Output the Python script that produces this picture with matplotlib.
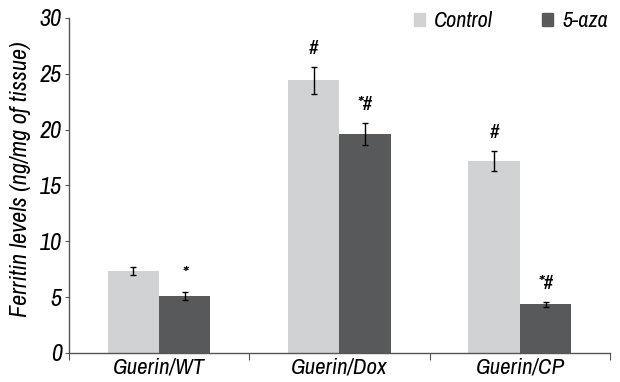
import numpy as np
import matplotlib
matplotlib.use('Agg')
import matplotlib.pyplot as plt
from matplotlib.patches import Patch

plt.rcParams['font.family'] = ['Archivo Narrow', 'DejaVu Sans']
plt.rcParams['font.style'] = 'italic'

# dados
grupos = ['Guerin/WT', 'Guerin/Dox', 'Guerin/CP']
controle = [7.35, 24.4, 17.2]
controle_err = [0.38, 1.2, 0.88]
aza = [5.1, 19.6, 4.35]
aza_err = [0.32, 1.0, 0.25]
marca_controle = ['', '#', '#']
marca_aza = ['*', '*#', '*#']

cor_controle = '#d1d2d4'
cor_aza = '#58595b'

fig = plt.figure(figsize=(6.2, 3.82), dpi=100)
ax = fig.add_axes([0.111, 0.076, 0.873, 0.877])

x = np.arange(len(grupos)) + 0.5
w = 0.285
ax.bar(x - w/2, controle, w, color=cor_controle, label='Control')
ax.bar(x + w/2, aza, w, color=cor_aza, label='5-aza')
ax.errorbar(x - w/2, controle, yerr=controle_err, fmt='none', ecolor='black',
            elinewidth=1, capsize=2.5, capthick=1)
ax.errorbar(x + w/2, aza, yerr=aza_err, fmt='none', ecolor='black',
            elinewidth=1, capsize=2.5, capthick=1)

for xi, v, e, m in zip(x - w/2, controle, controle_err, marca_controle):
    if m:
        ax.text(xi, v + e + 0.8, m, ha='center', va='bottom', fontsize=15)
for xi, v, e, m in zip(x + w/2, aza, aza_err, marca_aza):
    ax.text(xi, v + e + 0.8, m, ha='center', va='bottom', fontsize=15)

ax.set_xlim(0, 3)
ax.set_ylim(0, 30)
ax.set_yticks([0, 5, 10, 15, 20, 25, 30])
ax.set_xticks([0, 1, 2, 3])
ax.set_xticklabels([])
ax.set_xticks(x, minor=True)
ax.set_xticklabels(grupos, minor=True, fontsize=16.5)
ax.tick_params(axis='x', which='minor', length=0, pad=3)
ax.tick_params(axis='x', which='major', length=5, color='#555555', direction='out')
ax.tick_params(axis='y', length=3, color='#555555', labelsize=17.5, pad=2)

for s in ['top', 'right']:
    ax.spines[s].set_visible(False)
for s in ['left', 'bottom']:
    ax.spines[s].set_color('#555555')
    ax.spines[s].set_linewidth(1)

ax.set_ylabel('Ferritin levels (ng/mg of tissue)', fontsize=17.5)
ax.yaxis.set_label_coords(-0.07, 0.52)

handles = [Patch(color=cor_controle, label='Control'), Patch(color=cor_aza, label='5-aza')]
fig.legend(handles=handles, loc='upper right', bbox_to_anchor=(0.98, 0.97), ncol=2,
           frameon=False, fontsize=16, handlelength=0.5, handleheight=0.5,
           handletextpad=0.4, columnspacing=2.2, borderpad=0, borderaxespad=0)

fig.savefig('out.png', dpi=100)
